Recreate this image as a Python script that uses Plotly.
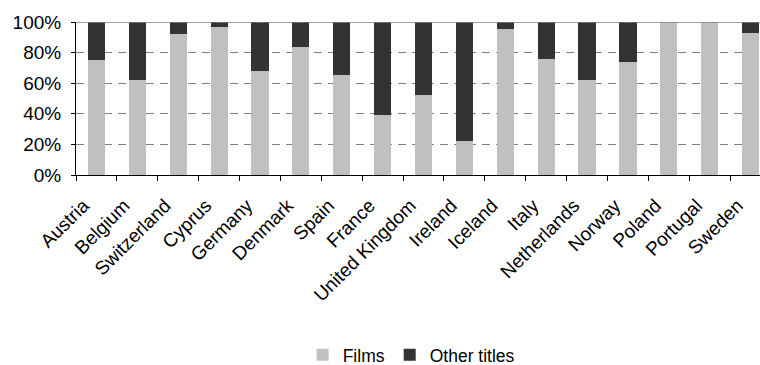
import plotly.graph_objects as go

countries = ["Austria", "Belgium", "Switzerland", "Cyprus", "Germany", "Denmark", "Spain",
             "France", "United Kingdom", "Ireland", "Iceland", "Italy", "Netherlands",
             "Norway", "Poland", "Portugal", "Sweden"]
films = [75, 62, 92, 96.5, 68, 83.5, 65.5, 39, 52, 22.5, 95.2, 76, 62, 73.6, 100, 100, 92.8]
other_titles = [round(100 - v, 1) for v in films]
y_ticks = [0, 20, 40, 60, 80, 100]
y_tick_labels = ["0%", "20%", "40%", "60%", "80%", "100%"]

FONT = "Liberation Sans, Arial, sans-serif"

fig = go.Figure()
fig.add_trace(go.Bar(x=countries, y=films, name="Films", marker=dict(color="#C0C0C0", line=dict(width=0))))
fig.add_trace(go.Bar(x=countries, y=other_titles, name="Other titles", marker=dict(color="#333333", line=dict(width=0))))

fig.update_layout(
    width=760, height=365,
    margin=dict(l=76, r=0, t=22, b=190, autoexpand=False),
    barmode="stack", bargap=0.58,
    plot_bgcolor="white", paper_bgcolor="white",
    font=dict(family=FONT, size=18, color="black"),
    showlegend=True,
    legend=dict(orientation="h", traceorder="normal", x=0.49, xanchor="center", y=-1.176, yanchor="middle",
                font=dict(size=17.5), itemwidth=30, tracegroupgap=0),
    xaxis=dict(range=[-0.5, 16.23], tickangle=-45, showline=True, linecolor="black", linewidth=1,
               ticks="outside", ticklen=5, tickcolor="black", tickson="boundaries",
               showgrid=False, tickfont=dict(size=19), ticklabelstandoff=11, ticklabelshift=-13,
               automargin=False),
    yaxis=dict(range=[0, 100], tickvals=y_ticks, ticktext=y_tick_labels, showline=True,
               linecolor="black", linewidth=1, ticks="outside", ticklen=4, tickcolor="black",
               showgrid=True, gridcolor="#808080", gridwidth=1, griddash="8px,6px",
               tickfont=dict(size=19), zeroline=False, ticklabelstandoff=6, automargin=False),
    shapes=[dict(type="line", xref="paper", yref="y", x0=0, x1=1, y0=100, y1=100,
                 line=dict(color="#808080", width=1.5), layer="above")],
)

fig.write_html("out.html")
